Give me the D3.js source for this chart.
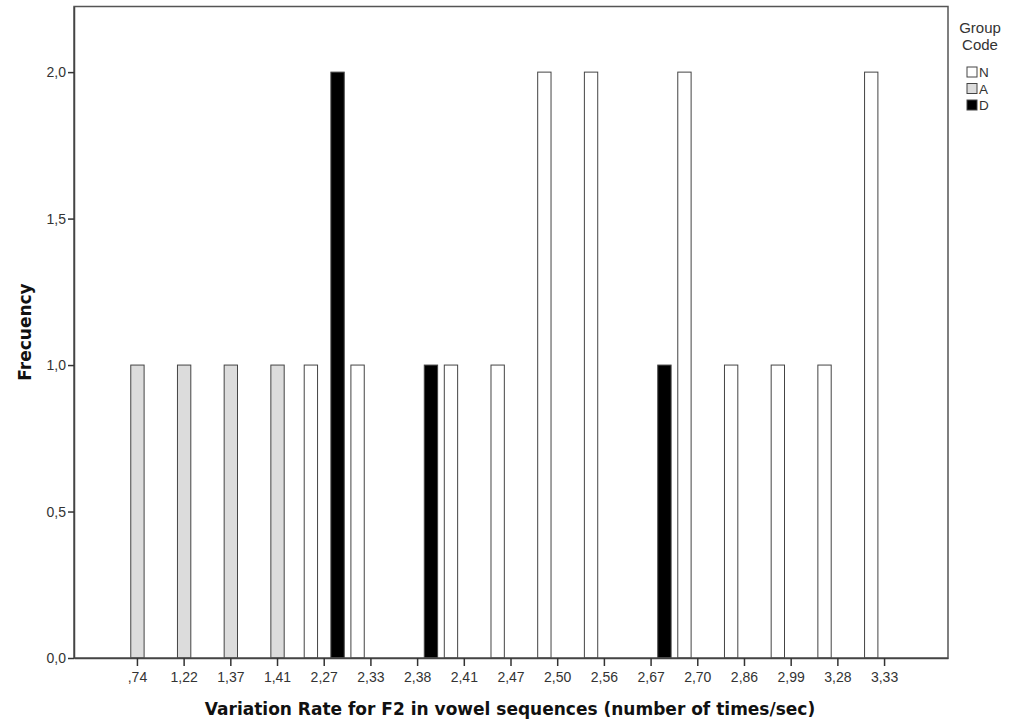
<!DOCTYPE html>
<html>
<head>
<meta charset="utf-8">
<script src="https://cdn.jsdelivr.net/npm/d3@7"></script>
<style>
  body { margin: 0; background: #fff; }
</style>
</head>
<body>
<div id="container"></div>
<script>
/* DATA */
const categories = [",74", "1,22", "1,37", "1,41", "2,27", "2,33", "2,38", "2,41", "2,47",
  "2,50", "2,56", "2,67", "2,70", "2,86", "2,99", "3,28", "3,33"];
const groups = ["N", "A", "D"];
const countsN = [0, 0, 0, 0, 1, 1, 0, 1, 1, 2, 2, 0, 2, 1, 1, 1, 2];
const countsA = [1, 1, 1, 1, 0, 0, 0, 0, 0, 0, 0, 0, 0, 0, 0, 0, 0];
const countsD = [0, 0, 0, 0, 2, 0, 1, 0, 0, 0, 0, 1, 0, 0, 0, 0, 0];
const yTicks = [0, 0.5, 1, 1.5, 2];

const colors = { N: "#ffffff", A: "#dcdcdc", D: "#000000" };

/* CONSTANTS */
const width = 1010,
  height = 727,
  margin = { top: 6.5, bottom: 69, left: 74, right: 62 };

const sans = "Arial, 'Liberation Sans', sans-serif";
const wide = "'DejaVu Sans', Verdana, sans-serif";

const data = categories.map((c, i) => ({
  cat: c,
  values: [
    { g: "N", v: countsN[i] },
    { g: "A", v: countsA[i] },
    { g: "D", v: countsD[i] }
  ]
}));

const svg = d3.select("#container")
  .append("svg")
  .attr("width", width)
  .attr("height", height)
  .attr("font-family", sans);

// SCALES
const x = d3.scaleBand()
  .domain(categories)
  .range([margin.left, width - margin.right])
  .paddingInner(0.143)
  .paddingOuter(0.93);

const xSub = d3.scaleBand()
  .domain(groups)
  .range([0, x.bandwidth()]);

const y = d3.scaleLinear()
  .domain([0, 2.224])
  .range([height - margin.bottom, margin.top]);

// BARS
const cat = svg.selectAll("g.cat")
  .data(data)
  .join("g")
  .attr("class", "cat")
  .attr("transform", d => `translate(${x(d.cat)},0)`);

cat.selectAll("rect")
  .data(d => d.values.filter(v => v.v > 0))
  .join("rect")
  .attr("x", d => xSub(d.g))
  .attr("width", xSub.bandwidth())
  .attr("y", d => y(d.v))
  .attr("height", d => y(0) - y(d.v))
  .attr("fill", d => colors[d.g])
  .attr("stroke", "#444")
  .attr("stroke-width", 1);

// FRAME
svg.append("rect")
  .attr("x", margin.left)
  .attr("y", margin.top)
  .attr("width", width - margin.left - margin.right)
  .attr("height", height - margin.top - margin.bottom)
  .attr("fill", "none")
  .attr("stroke", "#555")
  .attr("stroke-width", 1.5);

// AXES
const fmt = v => d3.format(".1f")(v).replace(".", ",");

const yAxis = svg.append("g")
  .attr("transform", `translate(${margin.left},0)`)
  .call(d3.axisLeft(y).tickValues(yTicks).tickFormat(fmt).tickSize(6).tickSizeOuter(0).tickPadding(2));

const xAxis = svg.append("g")
  .attr("transform", `translate(0,${height - margin.bottom})`)
  .call(d3.axisBottom(x).tickSize(8).tickSizeOuter(0).tickPadding(6));

[yAxis, xAxis].forEach(a => {
  a.attr("font-family", sans).attr("font-size", 14);
  a.select(".domain").attr("stroke", "#444").attr("stroke-width", 1.5);
  a.selectAll(".tick line").attr("stroke", "#333").attr("stroke-width", 1.5);
  a.selectAll(".tick text").attr("fill", "#333");
});

// AXIS TITLES
svg.append("text")
  .attr("x", 510)
  .attr("y", 715)
  .attr("text-anchor", "middle")
  .attr("font-family", wide)
  .attr("font-size", 17)
  .attr("font-weight", "bold")
  .attr("fill", "#111")
  .text("Variation Rate for F2 in vowel sequences (number of times/sec)");

svg.append("text")
  .attr("transform", "translate(31,332) rotate(-90)")
  .attr("text-anchor", "middle")
  .attr("font-family", wide)
  .attr("font-size", 17)
  .attr("font-weight", "bold")
  .attr("fill", "#111")
  .text("Frecuency");

// LEGEND
const legend = svg.append("g")
  .attr("class", "legend")
  .attr("transform", "translate(967,0)");

legend.append("text")
  .attr("x", 13)
  .attr("y", 33)
  .attr("text-anchor", "middle")
  .attr("font-size", 15)
  .attr("fill", "#333")
  .text("Group");

legend.append("text")
  .attr("x", 13)
  .attr("y", 50)
  .attr("text-anchor", "middle")
  .attr("font-size", 15)
  .attr("fill", "#333")
  .text("Code");

const items = legend.selectAll("g.item")
  .data(groups)
  .join("g")
  .attr("class", "item")
  .attr("transform", (d, i) => `translate(0,${67 + i * 16.5})`);

items.append("rect")
  .attr("width", 10)
  .attr("height", 10)
  .attr("fill", d => colors[d])
  .attr("stroke", "#444");

items.append("text")
  .attr("x", 12)
  .attr("y", 10)
  .attr("font-size", 13.5)
  .attr("fill", "#333")
  .text(d => d);
</script>
</body>
</html>
